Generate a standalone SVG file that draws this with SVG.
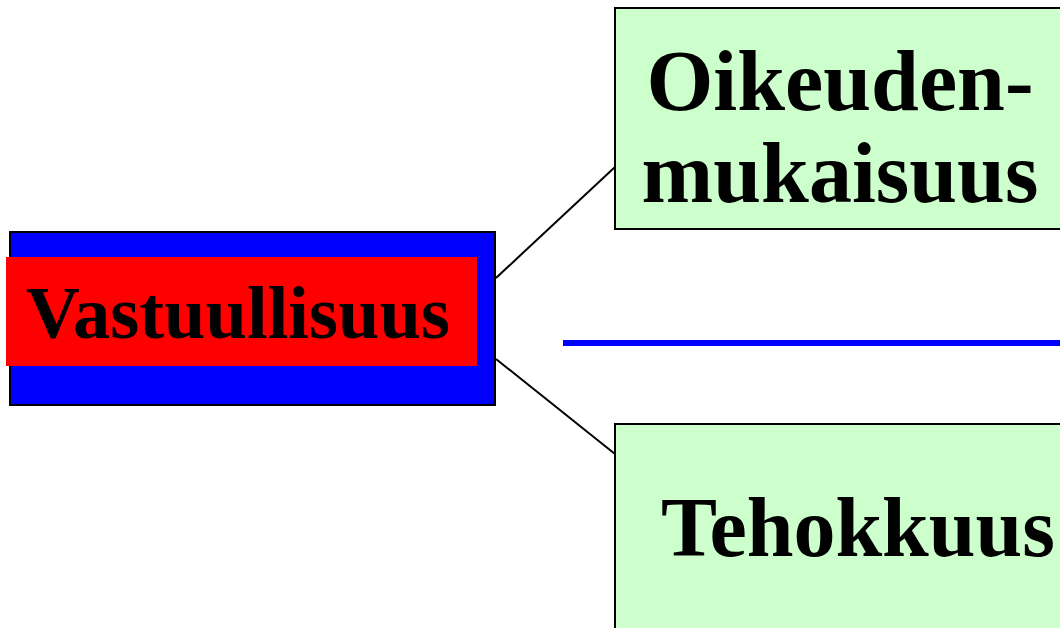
<svg xmlns="http://www.w3.org/2000/svg" width="1060" height="628" viewBox="0 0 1060 628">
<style>
.lbl{font-family:"Liberation Serif","Times New Roman",serif;font-weight:bold;fill:#000;text-anchor:middle}
.box{fill:#CCFFCC;stroke:#000;stroke-width:2}
.con{stroke:#000;stroke-width:2;fill:none}
</style>
<rect width="1060" height="628" fill="#fff"/>
<g id="connectors">
<line class="con" x1="496" y1="278" x2="615" y2="167"/>
<line class="con" x1="496" y1="359" x2="615" y2="454"/>
<line x1="563" y1="343" x2="1060" y2="343" stroke="#0000FF" stroke-width="6"/>
</g>
<g id="node-vastuullisuus">
<rect x="10" y="232" width="485" height="173" fill="#0000FF" stroke="#000" stroke-width="2"/>
<rect x="6" y="257" width="471" height="109" fill="#FF0000"/>
<text class="lbl" x="238" y="338" font-size="74.5">Vastuullisuus</text>
</g>
<g id="node-oikeudenmukaisuus">
<rect class="box" x="615" y="8" width="460" height="221"/>
<text class="lbl" x="840" y="110" font-size="86">Oikeuden-</text>
<text class="lbl" x="840" y="202" font-size="86">mukaisuus</text>
</g>
<g id="node-tehokkuus">
<rect class="box" x="615" y="424" width="460" height="220"/>
<text class="lbl" x="858" y="556" font-size="84">Tehokkuus</text>
</g>
</svg>
